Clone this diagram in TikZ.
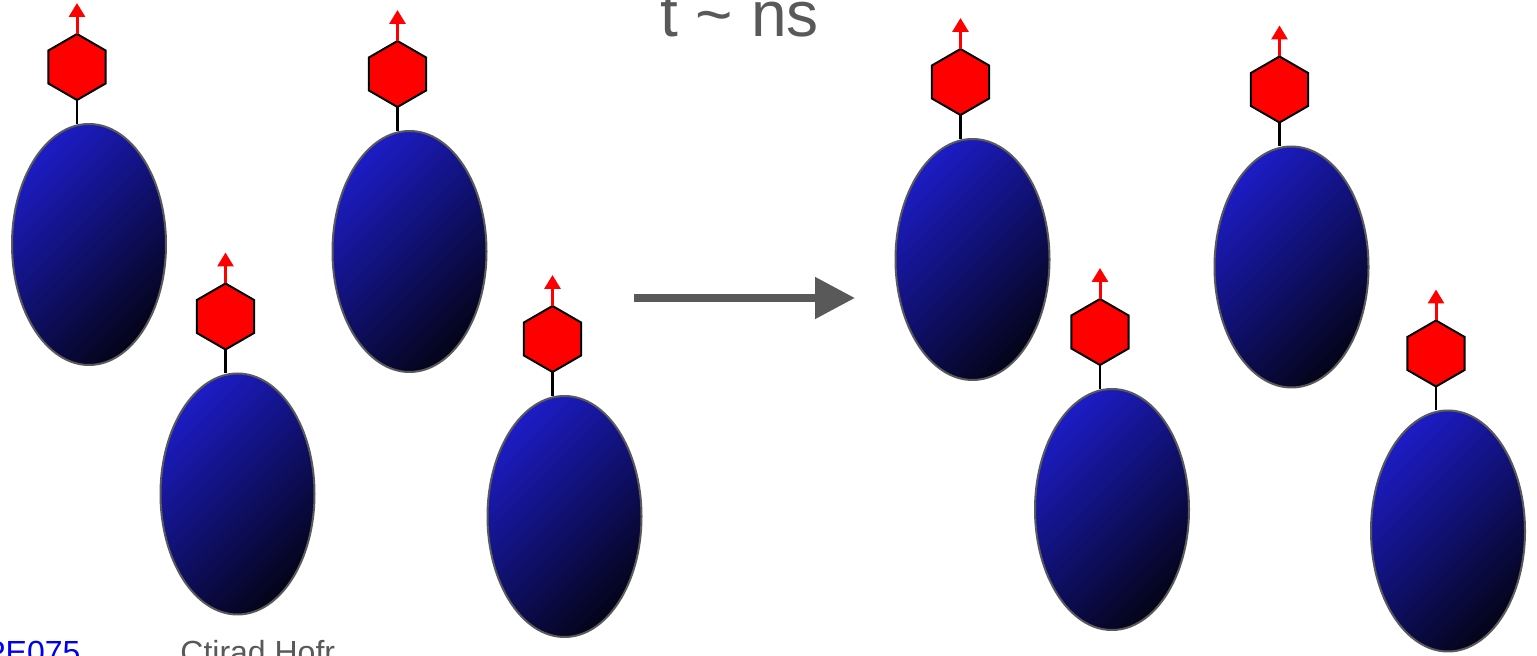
\documentclass[tikz,border=0pt]{standalone}
\usepackage{fontspec}
\setmainfont{Liberation Sans}
\usetikzlibrary{shapes.geometric,arrows.meta}
\definecolor{tgray}{HTML}{595959}
\definecolor{blobA}{HTML}{1C1CC4}
\definecolor{blobB}{HTML}{04041A}
\definecolor{rimgray}{HTML}{5A5A5A}
\definecolor{linkblue}{HTML}{0000EE}
\begin{document}
\begin{tikzpicture}[x=0.5pt,y=-0.5pt,
  blob/.style={ellipse, draw=rimgray, line width=1pt, minimum width=77pt, minimum height=120.5pt,
    inner sep=0pt, outer sep=0pt, top color=blobA, bottom color=blobB, shading angle=45},
  hexa/.style={regular polygon, regular polygon sides=6, shape border rotate=30, minimum size=33pt,
    fill=red, draw=black, line width=1pt, inner sep=0pt, outer sep=0pt},
  stem/.style={draw=black, line width=1.2pt},
  spinarrow/.style={draw=red, line width=1.5pt, -{Triangle[width=8pt,length=7pt]}},
  bigarrow/.style={draw=tgray, line width=4pt, -{Triangle[width=20pt,length=20pt]}}
]
\useasboundingbox (0,0) rectangle (1537,656);
\clip (0,0) rectangle (1537,656);
\foreach \i/\cx/\cy in {1/89/244.5, 2/237.5/494, 3/409.5/251.5, 4/564.5/516.5,
                        5/972.5/259.5, 6/1112/509.5, 7/1291.5/267, 8/1448/531}{
  \node[blob] (e\i) at (\cx,\cy) {};
  \node[hexa] (h\i) at (\cx-12,\cy-177.5) {};
  \coordinate (t\i) at (\cx-12,\cy-177.5-64);
  \draw[stem] (h\i.south) -- (h\i.south |- e\i.north);
  \draw[spinarrow] (h\i.north) -- (t\i);
}
\coordinate (ga) at (634,298);
\coordinate (gb) at (855,298);
\draw[bigarrow] (ga) -- (gb);
\node[anchor=base west, inner sep=0pt, text=tgray, font=\fontsize{32}{38}\selectfont] (title) at (660,37)
  {t \textasciitilde{} ns};
\node[anchor=base west, inner sep=0pt, text=linkblue, font=\fontsize{16}{19}\selectfont] (code) at (-16,664)
  {PE075};
\node[anchor=base west, inner sep=0pt, text=tgray, font=\fontsize{16}{19}\selectfont] (author) at (180,664)
  {Ctirad Hofr};
\end{tikzpicture}
\end{document}
